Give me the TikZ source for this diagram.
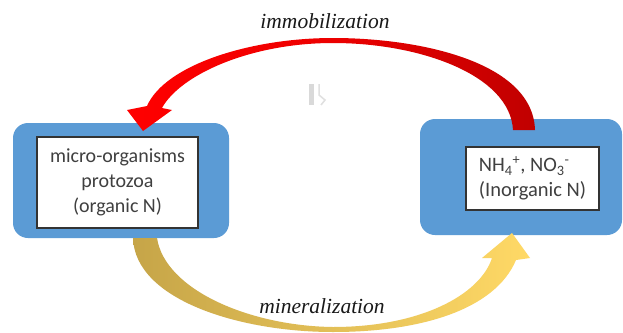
\documentclass[tikz,border=0pt]{standalone}
\usepackage{fontspec}
\setmainfont{Liberation Serif}
\newfontfamily\boxfont{Carlito}
\definecolor{boxblue}{RGB}{91,155,213}
\definecolor{txtgray}{RGB}{64,64,64}
\definecolor{redL}{RGB}{255,0,0}
\definecolor{redR}{RGB}{192,0,0}
\definecolor{goldL}{RGB}{198,165,72}
\definecolor{goldR}{RGB}{255,217,102}
\tikzset{
  bluebox/.style={fill=boxblue, draw=none, rounded corners=15pt, inner sep=0pt},
  whitebox/.style={fill=white, draw=txtgray!80!black, line width=1.3pt, inner sep=0pt,
    font=\boxfont\fontsize{20}{25}\selectfont, text=txtgray},
  label/.style={font=\itshape\fontsize{21.5}{24}\selectfont, text=black!90},
}
\begin{document}
\begin{tikzpicture}[x=1pt,y=-1pt]
\useasboundingbox (0,0) rectangle (623,332);
\fill[white] (0,0) rectangle (623,332);
% boxes
\node[bluebox, minimum width=216pt, minimum height=115pt] (lb) at (121,180.5) {};
\node[bluebox, minimum width=202pt, minimum height=116pt] (rb) at (521,177) {};
\node[whitebox, minimum width=161pt, minimum height=91pt, align=center] (lw) at (117.5,182.5)
  {micro-organisms\\protozoa\\(organic N)};
\node[whitebox, minimum width=133pt, minimum height=63pt, align=left,
  font=\boxfont\fontsize{20.5}{25}\selectfont] (rw) at (532.5,178.5)
  {NH\textsubscript{4}\textsuperscript{+}, NO\textsubscript{3}\textsuperscript{-}\\(Inorganic N)};
% red arrow (immobilization)
\shade[left color=redL, right color=redR, middle color=redL!70!redR]
  (513,130) .. controls (510,75) and (420,43) .. (333,43)
  .. controls (250,43) and (180,75) .. (162,108)
  -- (172,110) -- (143,131) -- (127,110) -- (147,106)
  .. controls (165,65) and (250,38) .. (333,38)
  .. controls (420,38) and (533,62) .. (535,130) -- cycle;
% yellow arrow (mineralization)
\shade[left color=goldL, right color=goldR, middle color=goldL!50!goldR]
  (157,238) .. controls (165,290) and (250,326) .. (333,327)
  .. controls (420,327) and (480,295) .. (492,258)
  -- (482,258) -- (512,233) -- (530,258) -- (516,260)
  .. controls (495,310) and (420,332) .. (333,332)
  .. controls (240,332) and (135,300) .. (133,238) -- cycle;
% labels
\node[label] (imm) at (325,21) {immobilization};
\node[label] (min) at (322,306) {mineralization};
% faint glyph
\fill[black!15] (309,84) rectangle (314,105);
\draw[black!12, line width=1.5pt] (319,84) -- (319,95) -- (325,100) -- (321,105);
\end{tikzpicture}
\end{document}
